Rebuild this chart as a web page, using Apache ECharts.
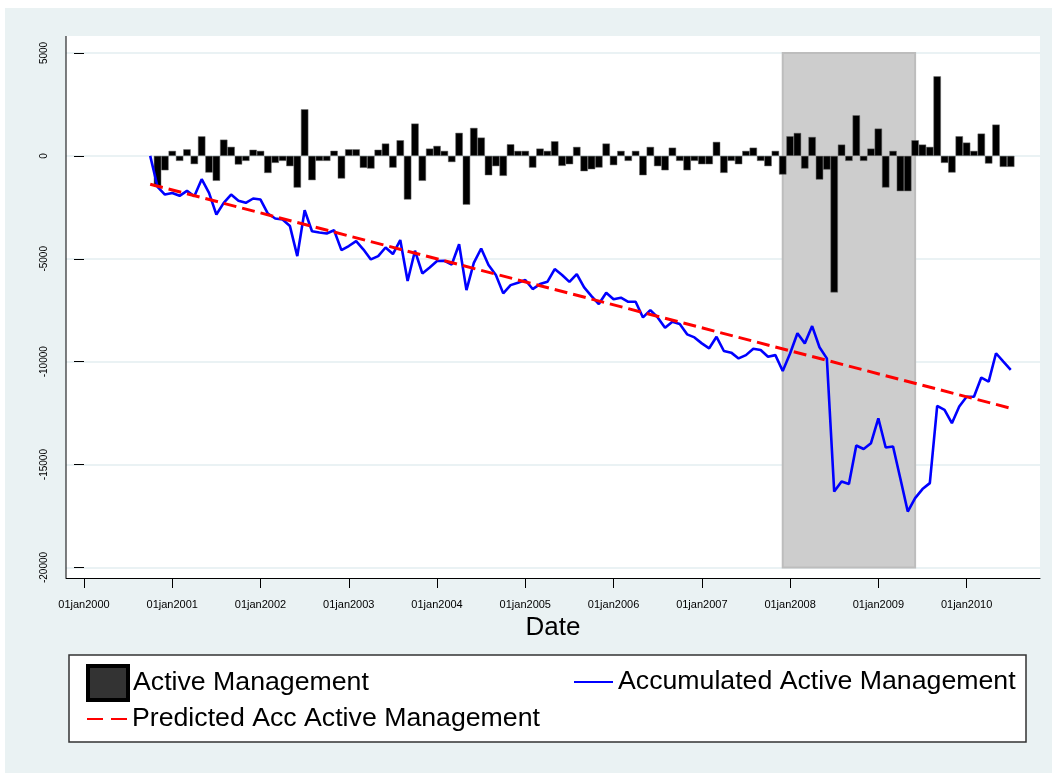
<!DOCTYPE html>
<html><head><meta charset="utf-8">
<script src="https://cdn.jsdelivr.net/npm/echarts@6/dist/echarts.min.js"></script>
<style>html,body{margin:0;padding:0;background:#fff}#c{width:1052px;height:773px}</style>
</head><body><div id="c"></div>
<script>
// First observation: October 2000 (monthly data through July 2010)
const START_YEAR = 2000, START_MONTH = 10;

// Monthly active management (bars)
const activeManagement = [
  null, -1505, -700,
  150, -200, 320, -400, 950, -810, -1210, 790, 440, -420, -150, 300,
  100, -830, -340, -100, -500, -1540, 2265, -1180, -50, -50, 250, -1100,
  320, 320, -580, -615, 300, 600, -570, 760, -2120, 1570, -1210, 355,
  485, 50, -300, 1120, -2370, 1360, 890, -940, -500, -970, 565, 150,
  150, -570, 355, 200, 710, -485, -405, 437, -745, -650, -566, 600,
  -450, 100, -150, 100, -940, 437, -500, -700, 400, -100, -700, -150,
  -405, -405, 680, -825, -100, -405, 225, 400, -100, -500, 100, -906,
  955, 1115, -615, 920, -1150, -665, -6634, 550, -150, 1974, -150, 355,
  1327, -1537, 100, -1715, -1715, 760, 550, 437, 3867, -340, -809, 955,
  647, 100, 1084, -372, 1521, -534, -534
];

// Accumulated active management (blue line)
const accumulated = [
  0, -1500, -1880,
  -1800, -1940, -1700, -1960, -1130, -1800, -2850, -2280, -1880, -2180, -2280, -2070,
  -2120, -2800, -3040, -3090, -3410, -4870, -2640, -3660, -3720, -3770, -3610, -4580,
  -4380, -4140, -4550, -5030, -4870, -4450, -4770, -4090, -6080, -4610, -5710, -5420,
  -5110, -5100, -5280, -4290, -6520, -5200, -4500, -5300, -5790, -6680, -6280, -6160,
  -6030, -6470, -6230, -6120, -5500, -5790, -6120, -5740, -6390, -6810, -7200, -6650,
  -6970, -6890, -7090, -7090, -7850, -7490, -7850, -8350, -8060, -8170, -8670, -8820,
  -9110, -9350, -8790, -9480, -9560, -9840, -9680, -9370, -9430, -9760, -9680, -10450,
  -9600, -8620, -9110, -8270, -9300, -9840, -16310, -15820, -15940, -14070, -14240, -13960,
  -12750, -14170, -14120, -15690, -17280, -16630, -16190, -15900, -12150, -12340, -12990, -12180,
  -11700, -11700, -10770, -10970, -9590, -10000, -10400
];

// Predicted (fitted) accumulated active management: values at first and last date
const predicted = [-1374, -12262];

// Recession shading (start month, end month)
const recession = ['2007-12', '2009-06'];

// X tick years (01jan of each)
const tickYears = [2000, 2001, 2002, 2003, 2004, 2005, 2006, 2007, 2008, 2009, 2010];

// Y axis
const Y_MIN = -20000, Y_MAX = 5000, Y_STEP = 5000;

// ---- helpers: months since Jan 2000 ----
function mIndex(y, m) { return (y - 2000) * 12 + (m - 1); }
function parseYM(s) { const [y, m] = s.split('-').map(Number); return mIndex(y, m); }
const m0 = mIndex(START_YEAR, START_MONTH);
const barData = activeManagement.map((v, i) => [m0 + i, v]);
const lineData = accumulated.map((v, i) => [m0 + i, v]);
const lastM = m0 + accumulated.length - 1;
const predData = [[m0, predicted[0]], [lastM, predicted[1]]];
const tickVals = tickYears.map(y => mIndex(y, 1));
const recData = [[parseYM(recession[0]), parseYM(recession[1])]];

const SANS = "'Liberation Sans', Arial, sans-serif";

// layout (pixels)
const PL = 66, PR = 1040, PT = 36, PB = 578;        // plot region
const GT = 53, GB = 567.5;                           // y range 5000..-20000
const pxPerMonth = 7.355, xZero = 84;                // 01jan2000 at x=84
const xMin = (PL - xZero) / pxPerMonth, xMax = (PR - xZero) / pxPerMonth;

const legendText = { fontSize: 26.7, fontFamily: SANS, color: '#000' };

const chart = echarts.init(document.getElementById('c'), null, { renderer: 'canvas' });
chart.setOption({
  backgroundColor: '#eaf2f3',
  animation: false,
  grid: { left: PL, right: 1052 - PR, top: GT, bottom: 773 - GB, containLabel: false },
  xAxis: {
    type: 'value', min: xMin, max: xMax, offset: PB - GB,
    axisLine: { show: true, onZero: false, lineStyle: { color: '#000', width: 1 } },
    axisTick: { show: true, length: 10, customValues: tickVals, lineStyle: { color: '#000' } },
    axisLabel: {
      customValues: tickVals, margin: 21, fontSize: 11, fontFamily: SANS, color: '#000',
      formatter: v => '01jan' + (2000 + Math.round(v / 12))
    },
    splitLine: { show: false },
    name: 'Date', nameLocation: 'middle', nameGap: 36,
    nameTextStyle: { fontSize: 26, fontFamily: SANS, color: '#000' }
  },
  yAxis: {
    type: 'value', min: Y_MIN, max: Y_MAX, interval: Y_STEP,
    axisLine: { show: false },
    axisTick: { show: true, length: 10, lineStyle: { color: '#000' } },
    axisLabel: { rotate: 90, margin: 17, fontSize: 10, fontFamily: SANS, color: '#000', formatter: v => String(v) },
    splitLine: { show: true, lineStyle: { color: '#e3eef0', width: 1.5 } }
  },
  graphic: [
    { type: 'rect', z: -10, shape: { x: 0, y: 0, width: 1052, height: 8 }, style: { fill: '#fff' } },
    { type: 'rect', z: -10, shape: { x: 0, y: 0, width: 5, height: 773 }, style: { fill: '#fff' } },
    { type: 'rect', z: -5, shape: { x: PL, y: PT, width: PR - PL, height: PB - PT }, style: { fill: '#fff' } },
    { type: 'line', z: 10, shape: { x1: PL, y1: PT, x2: PL, y2: PB }, style: { stroke: '#000', lineWidth: 1 } },
    { type: 'rect', z: -5, shape: { x: 69, y: 655, width: 957, height: 87 }, style: { fill: '#fff', stroke: '#333', lineWidth: 1.5 } }
  ],
  legend: [
    {
      data: [{ name: 'Active Management', icon: 'rect', itemStyle: { color: '#333', borderColor: '#000', borderWidth: 4 } }],
      left: 86, top: 664, padding: 0, itemWidth: 40, itemHeight: 34, selectedMode: false,
      textStyle: legendText
    },
    {
      data: [{ name: 'Accumulated Active Management', itemStyle: { opacity: 0 } }],
      left: 573, top: 668.5, padding: 0, itemWidth: 39, itemHeight: 34, selectedMode: false,
      itemStyle: { opacity: 0 },
      textStyle: legendText
    },
    {
      data: [{ name: 'Predicted Acc Active Management', itemStyle: { opacity: 0 } }],
      left: 86, top: 705.5, padding: 0, itemWidth: 40, itemHeight: 34, selectedMode: false,
      itemStyle: { opacity: 0 },
      lineStyle: { type: [16, 8] },
      textStyle: legendText
    }
  ],
  series: [
    {
      type: 'custom', name: 'Recession', z: 1, silent: true,
      data: recData, encode: { x: [0, 1] },
      renderItem: (params, api) => {
        const p1 = api.coord([api.value(0), Y_MAX]);
        const p2 = api.coord([api.value(1), Y_MIN]);
        return { type: 'rect', shape: { x: p1[0], y: p1[1], width: p2[0] - p1[0], height: p2[1] - p1[1] },
                 style: { fill: '#cdcdcd', stroke: '#bdbdbd', lineWidth: 2 } };
      }
    },
    {
      type: 'bar', name: 'Active Management', z: 3, data: barData,
      barWidth: 7.4, barMinHeight: 5, barGap: '-100%',
      itemStyle: { color: '#000', borderColor: '#666', borderWidth: 0.5 }
    },
    {
      type: 'line', name: 'Accumulated Active Management', z: 4, data: lineData,
      symbol: 'none', color: '#0000ff',
      lineStyle: { color: '#0000ff', width: 2.6 }
    },
    {
      type: 'line', name: 'Predicted Acc Active Management', z: 5, data: predData,
      symbol: 'none', color: '#ff0000',
      lineStyle: { color: '#ff0000', width: 3, type: [13, 6] }
    }
  ]
});
</script>
</body></html>
